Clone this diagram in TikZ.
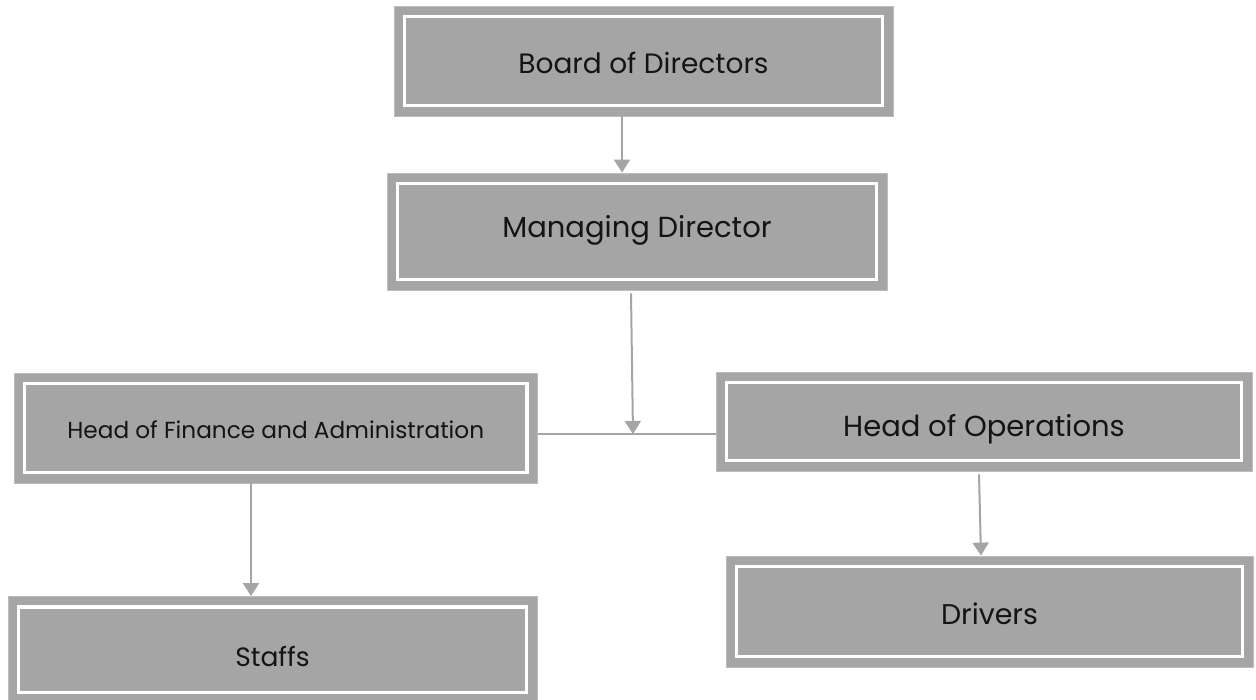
\documentclass[tikz,border=0pt]{standalone}
\usepackage{fontspec}
\setmainfont{Poppins}
\usetikzlibrary{arrows.meta}
\definecolor{boxgray}{HTML}{A5A5A5}
\definecolor{edgegray}{HTML}{BDBDBD}
\definecolor{txt}{HTML}{141414}
\newcommand{\boxlabel}[3]{\raisebox{-#1}[0pt][0pt]{\fontsize{#2}{#2}\selectfont #3}}
\tikzset{
  orgbox/.style={fill=boxgray, draw=edgegray, line width=0.8pt, inner sep=0pt, text=txt,
    path picture={\draw[white,line width=3.8pt]
      ([shift={(10.5pt,-10.5pt)}]path picture bounding box.north west) rectangle
      ([shift={(-10.5pt,10.5pt)}]path picture bounding box.south east);}},
  conn/.style={draw=boxgray, line width=2pt, -{Triangle[width=16pt,length=13pt]}},
  thin/.style={draw=boxgray, line width=1.2pt}
}
\begin{document}
\begin{tikzpicture}[x=1pt,y=-1pt]
\useasboundingbox (0,0) rectangle (1256,700);
\clip (0,0) rectangle (1256,700);
\node[orgbox, minimum width=499pt, minimum height=110pt] (board) at (643.5,61) {\boxlabel{13pt}{28pt}{Board of Directors}};
\node[orgbox, minimum width=500pt, minimum height=117pt] (md) at (637,231.5) {\boxlabel{6.5pt}{29pt}{Managing Director}};
\node[orgbox, minimum width=523.5pt, minimum height=110pt] (fin) at (275.75,428) {\boxlabel{10.5pt}{23.2pt}{Head of Finance and Administration}};
\node[orgbox, minimum width=536pt, minimum height=99pt] (ops) at (984,421.5) {\boxlabel{15pt}{29pt}{Head of Operations}};
\node[orgbox, minimum width=529pt, minimum height=106.5pt] (staffs) at (272.5,649.75) {\boxlabel{17pt}{26.5pt}{Staffs}};
\node[orgbox, minimum width=527pt, minimum height=111pt] (drivers) at (989.5,611.5) {\boxlabel{13pt}{28.5pt}{Drivers}};
\coordinate (j) at (633,434);
\draw[thin] (fin.east |- j) -- (ops.west |- j);
\draw[conn] ([xshift=-21.5pt]board.south) -- ([xshift=-15pt]md.north);
\draw[conn] ([xshift=-6pt,yshift=-3pt]md.south) -- (j);
\draw[conn] ([xshift=-24.75pt]fin.south) -- ([xshift=-21.5pt]staffs.north);
\draw[conn] ([xshift=-5pt,yshift=-3pt]ops.south) -- ([xshift=-8.5pt]drivers.north);
\end{tikzpicture}
\end{document}
